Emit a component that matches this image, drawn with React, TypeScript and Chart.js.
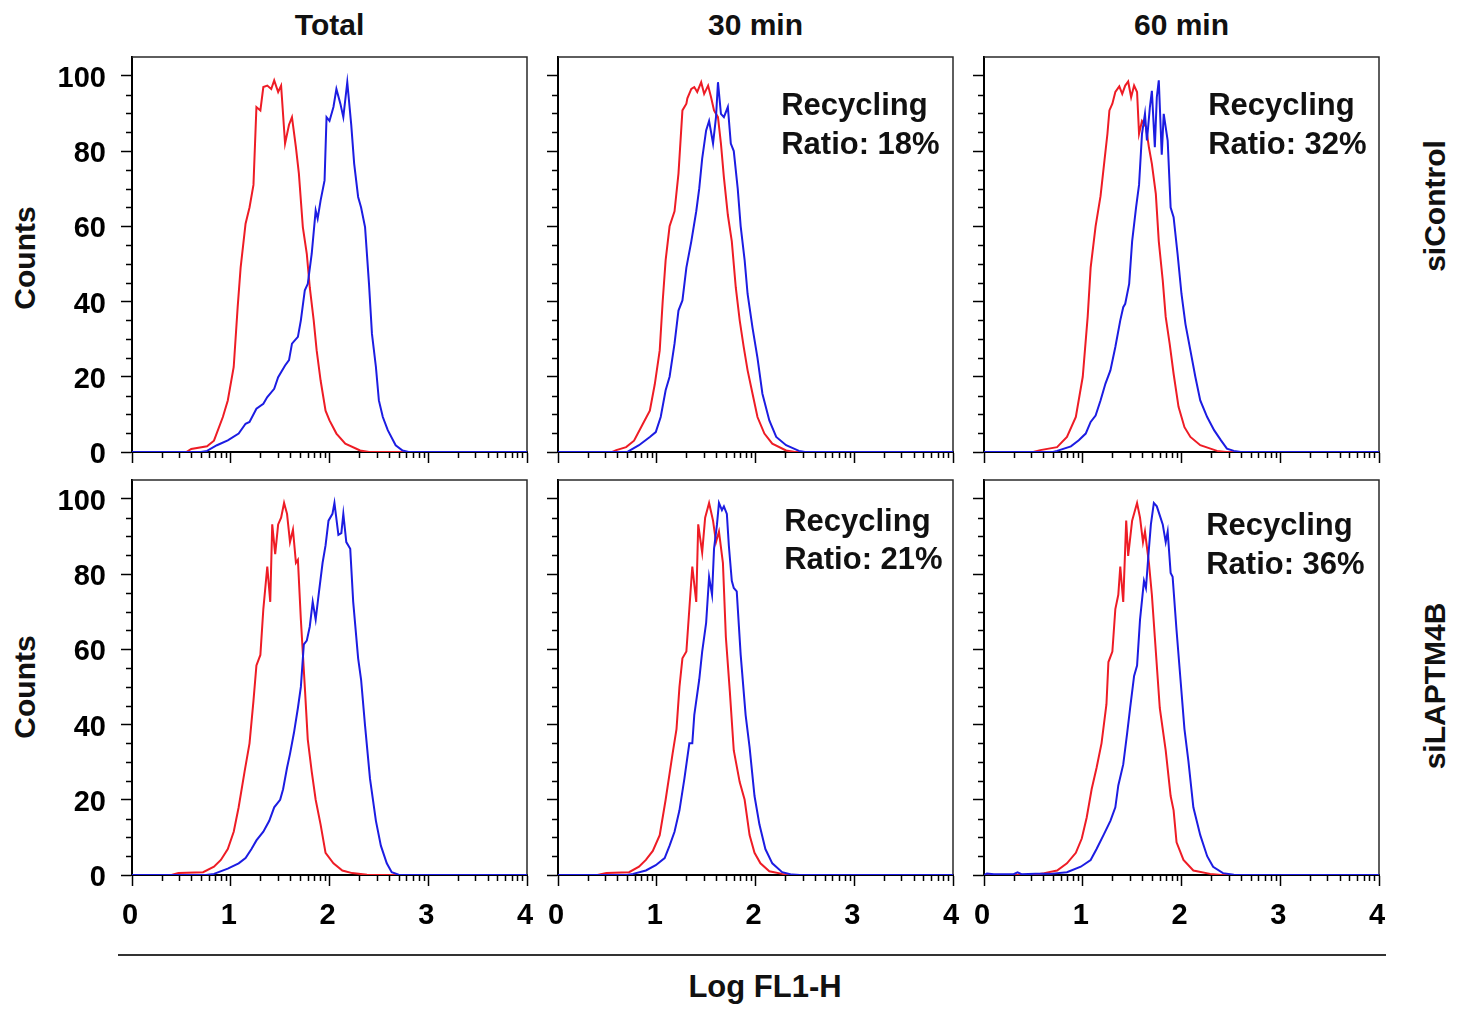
import React, { useEffect, useRef } from "react";
import { Chart, registerables } from "chart.js";

Chart.register(...registerables);

const FONT = "'Liberation Sans', Arial, Helvetica, sans-serif";
const RED = "#ee1c25";
const BLUE = "#1c1ce2";

// ---- labels ----
const columnTitles = ["Total", "30 min", "60 min"];
const rowLabels = ["siControl", "siLAPTM4B"];
const yAxisTitle = "Counts";
const xAxisTitle = "Log FL1-H";
const annotationLine1 = "Recycling";
const ratioLabels: (string | null)[] = [null, "18%", "32%", null, "21%", "36%"];
const xMinorDecades = [0, 1, 2, 3];
const xMinorMultipliers = [2, 3, 4, 5, 6, 7, 8, 9];
const yMinorValues = [5, 10, 15, 25, 30, 35, 45, 50, 55, 65, 70, 75, 85, 90, 95];

type Pt = [number, number];

// ---- data: [log FL1-H, counts] ----
const ctrlTotalRed: Pt[] = [[0,0],[0.55,0],[0.6,0.8],[0.76,1.5],[0.83,3],[0.92,9.3],[0.97,13.7],[1.03,22.6],[1.07,38.5],[1.10,49],[1.15,60.7],[1.19,65],[1.23,71],[1.26,91.7],[1.30,90.8],[1.33,97],[1.37,97.4],[1.41,96.5],[1.44,98.8],[1.48,95.7],[1.51,97.4],[1.55,82],[1.59,87],[1.62,89],[1.66,81],[1.69,74],[1.73,59.8],[1.77,52.7],[1.80,43.8],[1.84,35],[1.87,27],[1.91,19],[1.96,11],[2.00,8.4],[2.07,4.9],[2.16,2.2],[2.31,0.4],[2.4,0],[4,0]];
const ctrlTotalBlue: Pt[] = [[0,0],[0.7,0],[0.76,0.3],[0.86,1.8],[0.97,3.1],[1.08,4.9],[1.15,7.5],[1.19,8],[1.26,11.5],[1.33,12.8],[1.37,14.6],[1.44,16.8],[1.48,19.9],[1.55,23],[1.59,24.4],[1.62,28.8],[1.68,30.6],[1.71,35],[1.75,43],[1.78,44.7],[1.82,52.7],[1.86,64.2],[1.88,62],[1.91,66.9],[1.95,72.2],[1.97,89],[2.00,88],[2.04,91.7],[2.07,96.5],[2.11,92.6],[2.14,89],[2.18,98.3],[2.22,87],[2.25,76.6],[2.29,67.8],[2.32,65],[2.36,59.8],[2.40,44.7],[2.43,31.4],[2.47,22.6],[2.50,13.7],[2.54,9.3],[2.59,5.8],[2.67,1.8],[2.74,0.4],[2.8,0],[4,0]];
const ctrl30Red: Pt[] = [[0,0],[0.55,0],[0.59,0.5],[0.69,1.3],[0.77,3],[0.86,7.5],[0.93,11],[0.98,18],[1.03,27],[1.06,40],[1.09,51],[1.13,60],[1.18,64],[1.22,74],[1.26,90.8],[1.30,92.6],[1.31,94],[1.35,96.5],[1.38,97],[1.41,95.7],[1.45,98.3],[1.48,95.2],[1.52,97.4],[1.55,94.3],[1.58,90.8],[1.62,89],[1.65,82],[1.68,73],[1.72,63],[1.76,56],[1.80,43.8],[1.84,35],[1.88,28],[1.92,21.7],[1.97,15.5],[2.02,9.3],[2.09,4.9],[2.17,2.2],[2.31,0.4],[2.4,0],[4,0]];
const ctrl30Blue: Pt[] = [[0,0],[0.7,0],[0.72,0.3],[0.82,1.8],[0.93,4],[0.99,5.3],[1.04,9.3],[1.09,16.4],[1.13,20],[1.18,28.8],[1.22,37.6],[1.26,40.3],[1.30,49],[1.35,56],[1.40,64],[1.43,70],[1.46,78],[1.50,85.5],[1.53,88],[1.57,82],[1.60,89],[1.62,98.3],[1.65,89.9],[1.68,89],[1.72,91.7],[1.75,82],[1.78,80],[1.82,70],[1.85,60],[1.89,51],[1.92,42],[1.97,33],[2.02,25],[2.07,15.5],[2.14,8.4],[2.21,4],[2.31,1.8],[2.44,0.3],[2.5,0],[4,0]];
const ctrl60Red: Pt[] = [[0,0],[0.5,0],[0.57,0.5],[0.74,1.3],[0.84,4],[0.93,9.3],[1.00,20],[1.05,36],[1.08,49],[1.13,60],[1.18,68],[1.22,77.5],[1.25,84.6],[1.27,90.8],[1.30,92.6],[1.33,95.7],[1.37,97.2],[1.40,95.2],[1.43,97.4],[1.46,98.5],[1.49,94.3],[1.52,97.4],[1.55,95.7],[1.57,84.6],[1.60,88],[1.64,86.4],[1.67,81],[1.70,76.6],[1.74,68.6],[1.77,56],[1.81,45.6],[1.84,35.9],[1.88,28.8],[1.92,20.8],[1.97,12],[2.03,6.6],[2.09,4],[2.19,1.8],[2.36,0.3],[2.45,0],[4,0]];
const ctrl60Blue: Pt[] = [[0,0],[0.7,0],[0.74,0.3],[0.88,1.5],[0.96,3.1],[1.03,4.9],[1.08,8],[1.13,9.7],[1.18,13.7],[1.23,18.2],[1.28,21.7],[1.33,27.9],[1.38,35],[1.41,38.5],[1.43,39.4],[1.47,44.7],[1.50,56],[1.54,65],[1.57,71],[1.60,84.6],[1.63,89.9],[1.65,82.8],[1.68,91.7],[1.70,96],[1.73,81],[1.75,94.3],[1.77,98.8],[1.80,79],[1.82,89.9],[1.86,82.8],[1.89,65],[1.92,62.4],[1.96,52.7],[2.00,42],[2.04,34],[2.09,27],[2.14,20],[2.19,13.7],[2.26,9.3],[2.33,5.8],[2.40,3.1],[2.46,0.9],[2.53,0.3],[2.6,0],[4,0]];
const kdTotalRed: Pt[] = [[0,0],[0.4,0],[0.47,0.5],[0.72,0.75],[0.83,2.2],[0.90,4],[0.97,6.9],[1.03,11.5],[1.08,18],[1.14,27.5],[1.19,35],[1.23,46.3],[1.26,55.7],[1.30,58.5],[1.33,70.7],[1.37,82],[1.40,72.6],[1.42,93.2],[1.45,85.3],[1.48,93.2],[1.51,95],[1.54,98.9],[1.57,96],[1.60,88.5],[1.63,91.8],[1.66,83],[1.68,83.8],[1.71,67.9],[1.75,50],[1.78,36],[1.82,27.5],[1.86,20],[1.91,13.4],[1.96,5.9],[2.04,3.1],[2.13,1.2],[2.23,0.5],[2.38,0.1],[2.45,0],[4,0]];
const kdTotalBlue: Pt[] = [[0,0],[0.75,0],[0.83,0.3],[0.97,1.7],[1.08,3.1],[1.15,4.5],[1.21,6.9],[1.26,9.2],[1.33,11.5],[1.39,14.4],[1.44,18],[1.50,20],[1.53,22.8],[1.57,28.5],[1.60,32.2],[1.64,37.8],[1.68,44.4],[1.71,50],[1.74,61.3],[1.77,62.3],[1.80,66],[1.83,72.6],[1.86,67.9],[1.89,74.5],[1.93,83],[1.96,87.6],[1.99,94.2],[2.03,96],[2.05,98.9],[2.09,90.4],[2.12,90.9],[2.14,96],[2.17,88.5],[2.21,86.7],[2.24,72.6],[2.29,57.6],[2.32,51.9],[2.36,39.7],[2.41,25.6],[2.47,14.4],[2.52,7.8],[2.58,3.1],[2.63,0.75],[2.70,0.1],[2.75,0],[4,0]];
const kd30Red: Pt[] = [[0,0],[0.4,0],[0.49,0.5],[0.72,0.75],[0.82,2.2],[0.89,4],[0.96,6.4],[1.03,10.6],[1.09,20],[1.16,32.2],[1.20,38.8],[1.23,50],[1.26,57.6],[1.30,59.4],[1.33,70.7],[1.36,82],[1.40,72.6],[1.42,93.2],[1.46,85.7],[1.49,95],[1.53,98.9],[1.57,94.2],[1.60,88.5],[1.63,91.3],[1.67,83],[1.70,63.2],[1.74,48.8],[1.78,33.1],[1.84,24.7],[1.89,20],[1.94,10.6],[1.99,5.9],[2.05,3.1],[2.14,1],[2.27,0.3],[2.35,0],[4,0]];
const kd30Blue: Pt[] = [[0,0],[0.7,0],[0.76,0.3],[0.89,1.2],[0.99,2.6],[1.08,4.5],[1.13,7.8],[1.18,11.5],[1.23,17.2],[1.28,25.6],[1.33,35],[1.36,35],[1.38,42.5],[1.43,51.9],[1.46,59.4],[1.50,67],[1.53,79.2],[1.56,74.5],[1.58,86.7],[1.61,93.2],[1.63,98.9],[1.66,97],[1.68,98],[1.71,96],[1.73,87.6],[1.76,78.2],[1.78,76.3],[1.81,75.4],[1.85,58.5],[1.90,42.5],[1.94,34],[1.99,21],[2.04,13.4],[2.10,6.9],[2.17,3.1],[2.27,0.75],[2.37,0.1],[2.45,0],[4,0]];
const kd60Red: Pt[] = [[0,0],[0.5,0],[0.61,0.5],[0.74,1.2],[0.84,3.1],[0.93,5.9],[0.99,9.7],[1.04,15.3],[1.09,22.8],[1.14,28.5],[1.19,35],[1.24,45.4],[1.26,56.6],[1.30,59.4],[1.33,70.7],[1.36,74.5],[1.38,82],[1.41,72.6],[1.44,94.2],[1.46,84.8],[1.50,94.2],[1.53,97],[1.55,98.9],[1.58,95],[1.61,88.5],[1.63,91.3],[1.67,83],[1.70,74.5],[1.73,63.2],[1.78,44.4],[1.84,33.1],[1.89,21],[1.92,17.2],[1.95,8.7],[2.02,4],[2.12,1.2],[2.29,0.3],[2.4,0],[4,0]];
const kd60Blue: Pt[] = [[0,0],[0.03,0.4],[0.1,0.2],[0.3,0.2],[0.34,0.7],[0.38,0.2],[0.52,0.3],[0.67,0.3],[0.84,0.75],[0.98,2.2],[1.08,4],[1.14,6.9],[1.21,10.6],[1.28,14.4],[1.33,18],[1.36,23.8],[1.41,29.4],[1.45,37.8],[1.48,44.4],[1.52,52.9],[1.55,55.7],[1.58,67.9],[1.62,78.2],[1.64,76.3],[1.67,86.7],[1.69,93.2],[1.72,98.9],[1.75,98],[1.78,95.6],[1.81,93.2],[1.84,88.5],[1.86,91.3],[1.89,80.3],[1.91,79.3],[1.95,65],[1.99,51.9],[2.03,38.8],[2.07,30.3],[2.12,18],[2.19,10.6],[2.26,5],[2.32,2.2],[2.42,0.5],[2.53,0.1],[2.6,0],[4,0]];

const panelSeries = [
  { red: ctrlTotalRed, blue: ctrlTotalBlue },
  { red: ctrl30Red, blue: ctrl30Blue },
  { red: ctrl60Red, blue: ctrl60Blue },
  { red: kdTotalRed, blue: kdTotalBlue },
  { red: kd30Red, blue: kd30Blue },
  { red: kd60Red, blue: kd60Blue },
];

// ---- layout (pixels) ----
const COL_LEFT = [132, 558, 984];
const BOX_W = 395;
const ROW_TOP = [57, 480];
const BOX_H = [395, 395];
const PAD_L = 30;
const PAD_T = 40;
const PAD_R = 30;
// annotation anchor in data units per panel [x, yLine1, yLine2]
const ANNOT_POS: ([number, number, number] | null)[] = [
  null, [2.26, 89.5, 79.3], [2.27, 89.5, 79.3],
  null, [2.29, 91.5, 81.3], [2.25, 90.4, 80.1],
];

const framePlugin = {
  id: "frame",
  beforeDatasetsDraw(chart: any) {
    const { ctx, chartArea } = chart;
    ctx.save();
    ctx.strokeStyle = "#2a2a2a";
    ctx.lineWidth = 1.5;
    ctx.beginPath();
    ctx.moveTo(chartArea.left, chartArea.top);
    ctx.lineTo(chartArea.right, chartArea.top);
    ctx.lineTo(chartArea.right, chartArea.bottom);
    ctx.stroke();
    // minor ticks
    const xs = chart.scales.x;
    const ys = chart.scales.y;
    ctx.strokeStyle = "#000";
    ctx.lineWidth = 1.5;
    ctx.beginPath();
    for (const v of yMinorValues) {
      const py = Math.round(ys.getPixelForValue(v)) + 0.5;
      ctx.moveTo(chartArea.left, py);
      ctx.lineTo(chartArea.left - 6, py);
    }
    for (const d of xMinorDecades) {
      for (const m of xMinorMultipliers) {
        const px = Math.round(xs.getPixelForValue(d + Math.log10(m))) + 0.5;
        ctx.moveTo(px, chartArea.bottom);
        ctx.lineTo(px, chartArea.bottom + 6);
      }
    }
    ctx.stroke();
    ctx.restore();
  },
};

function Panel({ row, col }: { row: number; col: number }) {
  const ref = useRef<HTMLCanvasElement>(null);
  const idx = row * 3 + col;
  const yAxisW = col === 0 ? 92 : 14;
  const xAxisH = row === 0 ? 40 : 64;
  const width = PAD_L + yAxisW + BOX_W + PAD_R;
  const height = PAD_T + BOX_H[row] + xAxisH;
  const left = COL_LEFT[col] - yAxisW - PAD_L;
  const top = ROW_TOP[row] - PAD_T;

  useEffect(() => {
    const series = panelSeries[idx];
    const label = ratioLabels[idx];
    const pos = ANNOT_POS[idx];
    const annotPlugin = {
      id: "annot",
      afterDatasetsDraw(chart: any) {
        if (!label || !pos) return;
        const { ctx } = chart;
        const xs = chart.scales.x;
        const ys = chart.scales.y;
        ctx.save();
        ctx.font = `bold 31px ${FONT}`;
        ctx.fillStyle = "#111";
        ctx.textAlign = "left";
        ctx.textBaseline = "alphabetic";
        const px = xs.getPixelForValue(pos[0]);
        ctx.fillText(annotationLine1, px, ys.getPixelForValue(pos[1]));
        ctx.fillText(`Ratio: ${label}`, px, ys.getPixelForValue(pos[2]));
        ctx.restore();
      },
    };
    const tickFont = { family: FONT, weight: "bold" as const, size: 29 };
    const chart = new Chart(ref.current!, {
      type: "line",
      data: {
        datasets: [
          {
            data: series.blue.map(([x, y]) => ({ x, y })),
            borderColor: BLUE,
            borderWidth: 2,
            pointRadius: 0,
            tension: 0,
            fill: false,
          },
          {
            data: series.red.map(([x, y]) => ({ x, y })),
            borderColor: RED,
            borderWidth: 2,
            pointRadius: 0,
            tension: 0,
            fill: false,
          },
        ],
      },
      options: {
        animation: false,
        responsive: false,
        maintainAspectRatio: false,
        devicePixelRatio: 1,
        events: [],
        layout: { padding: { left: PAD_L, top: PAD_T, right: PAD_R, bottom: 0 } },
        plugins: {
          legend: { display: false },
          tooltip: { enabled: false },
          title: { display: false },
        },
        scales: {
          x: {
            type: "linear",
            min: 0,
            max: 4,
            afterFit: (s: any) => {
              s.height = xAxisH;
            },
            grid: {
              drawOnChartArea: false,
              drawTicks: true,
              tickLength: 11,
              tickWidth: 1.5,
              tickColor: "#000",
            },
            border: { display: true, color: "#000", width: 2 },
            ticks: {
              display: row === 1,
              stepSize: 1,
              autoSkip: false,
              maxRotation: 0,
              includeBounds: false,
              padding: 13,
              labelOffset: -2,
              color: "#000",
              font: tickFont,
              callback: (v: any) => String(v),
            },
          },
          y: {
            type: "linear",
            min: 0,
            max: 105,
            afterFit: (s: any) => {
              s.width = yAxisW;
            },
            grid: {
              drawOnChartArea: false,
              drawTicks: true,
              tickLength: 11,
              tickWidth: 1.5,
              tickColor: "#000",
            },
            border: { display: true, color: "#000", width: 2 },
            ticks: {
              display: col === 0,
              stepSize: 20,
              autoSkip: false,
              includeBounds: false,
              padding: 15,
              labelOffset: 3,
              color: "#000",
              font: tickFont,
              callback: (v: any) => String(v),
            },
          },
        },
      } as any,
      plugins: [framePlugin, annotPlugin],
    });
    return () => chart.destroy();
  }, []);

  return (
    <canvas
      ref={ref}
      width={width}
      height={height}
      style={{ position: "absolute", left, top, width, height }}
    />
  );
}

const textBase: React.CSSProperties = {
  position: "absolute",
  fontFamily: FONT,
  fontWeight: 700,
  fontSize: 30,
  lineHeight: "30px",
  whiteSpace: "nowrap",
  color: "#111",
};

export default function App() {
  const colCenters = COL_LEFT.map((l) => l + BOX_W / 2);
  return (
    <div
      style={{
        position: "absolute",
        left: 0,
        top: 0,
        width: 1464,
        height: 1013,
        background: "#fff",
        overflow: "hidden",
      }}
    >
      {columnTitles.map((t, i) => (
        <div
          key={t}
          style={{ ...textBase, left: colCenters[i], top: 25, transform: "translate(-50%, -50%)" }}
        >
          {t}
        </div>
      ))}
      {rowLabels.map((t, i) => (
        <div
          key={t}
          style={{
            ...textBase,
            left: 1435,
            top: i === 0 ? 206 : 686,
            transform: "translate(-50%, -50%) rotate(-90deg)",
          }}
        >
          {t}
        </div>
      ))}
      {[258, 687].map((y) => (
        <div
          key={y}
          style={{ ...textBase, left: 25, top: y, transform: "translate(-50%, -50%) rotate(-90deg)" }}
        >
          {yAxisTitle}
        </div>
      ))}
      {[0, 1].map((r) => [0, 1, 2].map((c) => <Panel key={`${r}-${c}`} row={r} col={c} />))}
      <div
        style={{
          position: "absolute",
          left: 118,
          top: 954,
          width: 1268,
          height: 2,
          background: "#333",
        }}
      />
      <div
        style={{
          ...textBase,
          fontSize: 31,
          lineHeight: "31px",
          left: 765,
          top: 986,
          transform: "translate(-50%, -50%)",
        }}
      >
        {xAxisTitle}
      </div>
    </div>
  );
}
